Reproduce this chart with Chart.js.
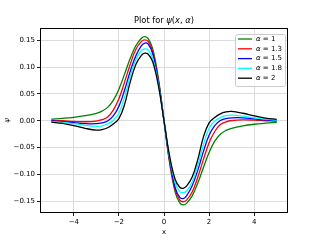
<!DOCTYPE html>
<html>
<head>
<meta charset="utf-8">
<script src="https://cdn.jsdelivr.net/npm/chart.js@4"></script>
<style>
  html, body { margin: 0; padding: 0; background: #fff; }
  canvas { display: block; }
</style>
</head>
<body>
<canvas id="psiChart" width="320" height="240"></canvas>
<script>
// x positions of the samples
const xValues = [-5, -4.5, -4, -3.5, -3, -2.75, -2.5, -2.25, -2, -1.75, -1.5, -1.25, -1, -0.85, -0.7, -0.5, -0.25,
  0, 0.25, 0.5, 0.7, 0.85, 1, 1.25, 1.5, 1.75, 2, 2.25, 2.5, 2.75, 3, 3.5, 4, 4.5, 5];

const alphaLabels = ["1", "1.3", "1.5", "1.8", "2"];
const lineColors = ["#008000", "#ff0000", "#0000ff", "#00ffff", "#000000"];

// psi(x, alpha), one array per alpha
const psiA1 = [0.003, 0.0045, 0.0065, 0.0095, 0.014, 0.018, 0.025, 0.038, 0.059, 0.087, 0.116, 0.140, 0.154, 0.157, 0.153, 0.134, 0.079,
  0, -0.079, -0.134, -0.153, -0.157, -0.154, -0.140, -0.116, -0.087, -0.059, -0.038, -0.025, -0.018, -0.014, -0.0095, -0.0065, -0.0045, -0.003];
const psiA13 = [0.0005, 0, -0.0012, -0.0018, -0.0005, 0.002, 0.007, 0.020, 0.041, 0.072, 0.105, 0.133, 0.148, 0.151, 0.148, 0.129, 0.076,
  0, -0.076, -0.129, -0.148, -0.151, -0.148, -0.133, -0.105, -0.072, -0.041, -0.020, -0.007, -0.002, 0.0005, 0.0018, 0.0012, 0, -0.0005];
const psiA15 = [0, -0.0015, -0.0035, -0.0055, -0.0055, -0.004, -0.0005, 0.009, 0.027, 0.057, 0.092, 0.121, 0.140, 0.145, 0.143, 0.125, 0.073,
  0, -0.073, -0.125, -0.143, -0.145, -0.140, -0.121, -0.092, -0.057, -0.027, -0.009, 0.0005, 0.004, 0.0055, 0.0055, 0.0035, 0.0015, 0];
const psiA18 = [-0.0013, -0.003, -0.0055, -0.0085, -0.0105, -0.0095, -0.006, 0.0005, 0.014, 0.044, 0.083, 0.114, 0.131, 0.134, 0.132, 0.116, 0.069,
  0, -0.069, -0.116, -0.132, -0.134, -0.131, -0.114, -0.083, -0.044, -0.014, -0.0005, 0.006, 0.0095, 0.0105, 0.0085, 0.0055, 0.003, 0.0013];
const psiA2 = [-0.0025, -0.005, -0.009, -0.014, -0.0175, -0.0165, -0.013, -0.006, 0.004, 0.030, 0.072, 0.105, 0.122, 0.126, 0.124, 0.110, 0.066,
  0, -0.066, -0.110, -0.124, -0.126, -0.122, -0.105, -0.072, -0.030, -0.004, 0.006, 0.013, 0.0165, 0.0175, 0.014, 0.009, 0.005, 0.0025];

const xTicks = [-4, -2, 0, 2, 4];
const yTicks = [-0.15, -0.10, -0.05, 0.00, 0.05, 0.10, 0.15];

const allSeries = [psiA1, psiA13, psiA15, psiA18, psiA2];
const FONT = "'DejaVu Sans', 'Liberation Sans', sans-serif";

function minusSign(s) { return s.replace("-", "\u2212"); }

// draw a row of text pieces, some of them italic (mathtext look)
function drawRuns(ctx, runs, x, y, size, align) {
  let total = 0;
  runs.forEach(r => {
    ctx.font = (r[1] ? "italic " : "") + size + "px " + FONT;
    total += ctx.measureText(r[0]).width;
  });
  let cx = align === "center" ? x - total / 2 : x;
  runs.forEach(r => {
    ctx.font = (r[1] ? "italic " : "") + size + "px " + FONT;
    ctx.fillText(r[0], cx, y);
    cx += ctx.measureText(r[0]).width;
  });
}

const decor = {
  id: "decor",
  afterDraw(chart) {
    const ctx = chart.ctx;
    const a = chart.chartArea;
    ctx.save();

    // axes frame
    ctx.strokeStyle = "#000";
    ctx.lineWidth = 1;
    ctx.strokeRect(a.left + 0.5, a.top + 0.5, a.right - a.left - 1, a.bottom - a.top - 1);

    ctx.fillStyle = "#000";
    ctx.textAlign = "left";
    ctx.textBaseline = "middle";

    // title
    drawRuns(ctx, [["Plot for ", false], ["\u03c8", true], ["(", false], ["x", true], [", ", false], ["\u03b1", true], [")", false]],
      (a.left + a.right) / 2, 21, 8.3, "center");

    // axis labels
    ctx.textAlign = "center";
    ctx.font = "7px " + FONT;
    ctx.fillText("x", (a.left + a.right) / 2, 232);
    ctx.save();
    ctx.translate(7, (a.top + a.bottom) / 2);
    ctx.rotate(-Math.PI / 2);
    ctx.font = "italic 7px " + FONT;
    ctx.fillText("\u03c8", 0, 0);
    ctx.restore();

    // legend
    const bx = 235, by = 34, bw = 50, bh = 52;
    ctx.fillStyle = "rgba(255,255,255,0.8)";
    ctx.strokeStyle = "#cccccc";
    ctx.lineWidth = 1;
    ctx.beginPath();
    ctx.roundRect(bx + 0.5, by + 0.5, bw, bh, 2);
    ctx.fill();
    ctx.stroke();

    ctx.textAlign = "left";
    alphaLabels.forEach((lab, i) => {
      const yy = by + 5 + i * 9.8;
      ctx.strokeStyle = lineColors[i];
      ctx.lineWidth = 1.3;
      ctx.beginPath();
      ctx.moveTo(238, yy);
      ctx.lineTo(252, yy);
      ctx.stroke();
      ctx.fillStyle = "#000";
      drawRuns(ctx, [["\u03b1", true], [" = " + lab, false]], 256, yy, 7, "left");
    });

    ctx.restore();
  }
};

const ctx = document.getElementById("psiChart").getContext("2d");

new Chart(ctx, {
  type: "line",
  data: {
    datasets: allSeries.map((ys, i) => ({
      label: "\u03b1 = " + alphaLabels[i],
      data: xValues.map((x, j) => ({ x: x, y: ys[j] })),
      borderColor: lineColors[i],
      borderWidth: 1.3,
      pointRadius: 0,
      fill: false,
      tension: 0.4,
      order: allSeries.length - i // later alphas on top, like matplotlib
    }))
  },
  options: {
    responsive: false,
    animation: false,
    layout: { padding: { top: 28, right: 32, left: 0, bottom: 0 } },
    plugins: {
      legend: { display: false },
      tooltip: { enabled: false },
      title: { display: false }
    },
    scales: {
      x: {
        type: "linear",
        min: -5.5,
        max: 5.5,
        afterBuildTicks: s => { s.ticks = xTicks.map(v => ({ value: v })); },
        afterFit: s => { s.height = 27; },
        border: { display: false },
        grid: { color: "#dcdcdc", lineWidth: 1, tickColor: "#222", tickLength: 3 },
        ticks: {
          color: "#000",
          font: { family: FONT, size: 7 },
          padding: 2,
          maxRotation: 0,
          callback: v => minusSign(String(v))
        }
      },
      y: {
        type: "linear",
        min: -0.172,
        max: 0.173,
        afterBuildTicks: s => { s.ticks = yTicks.map(v => ({ value: v })); },
        afterFit: s => { s.width = 40; },
        border: { display: false },
        grid: { color: "#dcdcdc", lineWidth: 1, tickColor: "#222", tickLength: 3 },
        ticks: {
          color: "#000",
          font: { family: FONT, size: 7 },
          padding: 2,
          callback: v => minusSign(v.toFixed(2))
        }
      }
    }
  },
  plugins: [decor]
});
</script>
</body>
</html>
